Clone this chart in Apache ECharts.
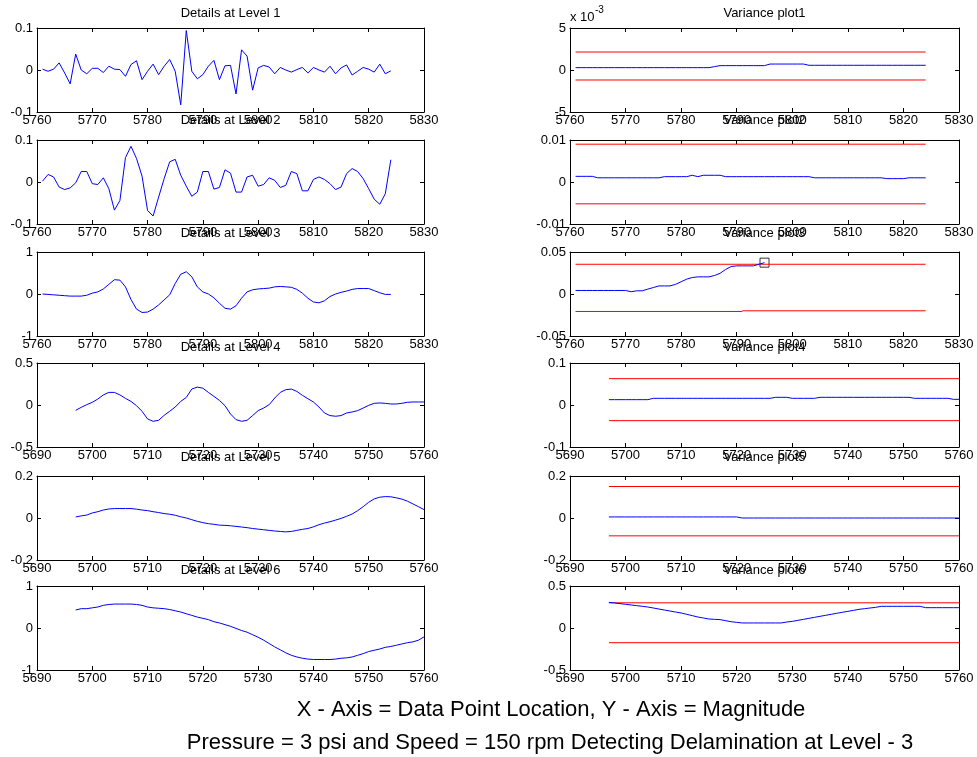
<!DOCTYPE html>
<html>
<head>
<meta charset="utf-8">
<script src="https://cdn.jsdelivr.net/npm/echarts@6/dist/echarts.min.js"></script>
<style>
  html, body { margin: 0; padding: 0; background: #fff; }
  #chart { width: 977px; height: 757px; }
</style>
</head>
<body>
<div id="chart"></div>
<script>
// ---- data ----
const detailTitles = ['Details at Level 1', 'Details at Level 2', 'Details at Level 3',
                      'Details at Level 4', 'Details at Level 5', 'Details at Level 6'];
const varianceTitles = ['Variance plot1', 'Variance plot2', 'Variance plot3',
                        'Variance plot4', 'Variance plot5', 'Variance plot6'];

// first sample location of each row (one sample per integer location)
const rowStart = [5761, 5761, 5761, 5697, 5697, 5697];
const rowXRange = [[5760, 5830], [5760, 5830], [5760, 5830], [5690, 5760], [5690, 5760], [5690, 5760]];
const detailYRange = [[-0.1, 0.1], [-0.1, 0.1], [-1, 1], [-0.5, 0.5], [-0.2, 0.2], [-1, 1]];
const varianceYRange = [[-0.005, 0.005], [-0.01, 0.01], [-0.05, 0.05], [-0.1, 0.1], [-0.2, 0.2], [-0.5, 0.5]];

const detail1 = [0.002,-0.003,0.002,0.017,-0.007,-0.033,0.038,0,-0.009,0.004,
  0.004,-0.006,0.009,0.002,0.001,-0.015,0.013,0.022,-0.023,-0.003,
  0.014,-0.011,0.009,0.025,-0.003,-0.083,0.094,-0.003,-0.021,-0.011,
  0.009,0.023,-0.023,0.01,0.011,-0.057,0.048,0.033,-0.048,0.005,
  0.011,0.007,-0.009,0.006,0,-0.005,0.001,0.006,-0.007,0.006,
  0,-0.005,0.009,-0.009,0.005,0.012,-0.012,-0.003,0.006,0.002,
  -0.005,0.014,-0.009,-0.002];
const detail2 = [0.002,0.018,0.012,-0.012,-0.018,-0.014,-0.002,0.025,0.025,-0.004,
  -0.006,0.01,-0.016,-0.067,-0.044,0.058,0.085,0.056,0.014,-0.068,
  -0.081,-0.036,0.008,0.048,0.054,0.016,-0.01,-0.034,-0.024,0.025,
  0.025,-0.017,-0.013,0.029,0.021,-0.024,-0.024,0.012,0.016,-0.01,
  -0.006,0.01,0.004,-0.013,-0.008,0.025,0.02,-0.021,-0.021,0.006,
  0.012,0.006,-0.004,-0.018,-0.012,0.02,0.032,0.025,0.008,-0.016,
  -0.041,-0.053,-0.028,0.053];
const detail3 = [0,-0.01,-0.02,-0.03,-0.04,-0.05,-0.05,-0.05,-0.03,0.02,
  0.05,0.12,0.23,0.34,0.33,0.17,-0.13,-0.36,-0.44,-0.43,
  -0.36,-0.26,-0.14,-0.02,0.25,0.47,0.53,0.41,0.17,0.05,
  0,-0.09,-0.22,-0.34,-0.36,-0.28,-0.1,0.05,0.1,0.12,
  0.13,0.14,0.17,0.18,0.17,0.16,0.11,0.02,-0.1,-0.19,
  -0.21,-0.16,-0.06,0,0.04,0.07,0.11,0.13,0.13,0.13,
  0.08,0.03,-0.01,-0.01];
const detail4 = [-0.063,-0.028,0.004,0.032,0.071,0.12,0.15,0.15,0.12,0.079,
  0.043,-0.008,-0.075,-0.166,-0.194,-0.182,-0.123,-0.075,-0.024,0.043,
  0.09,0.19,0.213,0.2,0.15,0.103,0.055,-0.008,-0.107,-0.174,
  -0.194,-0.182,-0.126,-0.067,-0.036,0.004,0.083,0.15,0.182,0.19,
  0.162,0.115,0.075,0.036,-0.024,-0.095,-0.126,-0.134,-0.126,-0.095,
  -0.083,-0.067,-0.036,-0.004,0.02,0.024,0.02,0.012,0.012,0.02,
  0.032,0.036,0.036,0.036];
const detail5 = [0.005,0.01,0.014,0.024,0.03,0.038,0.043,0.045,0.045,0.045,
  0.045,0.042,0.038,0.035,0.03,0.026,0.021,0.018,0.013,0.006,
  0,-0.008,-0.016,-0.022,-0.027,-0.03,-0.034,-0.035,-0.037,-0.04,
  -0.043,-0.046,-0.05,-0.053,-0.056,-0.059,-0.062,-0.064,-0.066,-0.064,
  -0.059,-0.054,-0.05,-0.042,-0.032,-0.024,-0.018,-0.01,-0.002,0.008,
  0.019,0.035,0.054,0.075,0.091,0.099,0.102,0.101,0.096,0.09,
  0.08,0.067,0.054,0.04];
const detail6 = [0.43,0.46,0.46,0.48,0.5,0.54,0.56,0.57,0.57,0.57,
  0.57,0.56,0.54,0.5,0.48,0.47,0.46,0.44,0.41,0.38,
  0.34,0.3,0.26,0.23,0.2,0.15,0.12,0.08,0.04,-0.01,
  -0.06,-0.1,-0.16,-0.22,-0.29,-0.37,-0.45,-0.52,-0.59,-0.65,
  -0.69,-0.72,-0.74,-0.75,-0.75,-0.75,-0.75,-0.74,-0.72,-0.71,
  -0.69,-0.65,-0.61,-0.56,-0.53,-0.5,-0.46,-0.44,-0.41,-0.38,
  -0.35,-0.33,-0.29,-0.21];

const variance1 = [0.00028,0.00028,0.00028,0.00028,0.00028,0.00028,0.00028,0.00028,0.00028,0.00028,
  0.00028,0.00028,0.00028,0.00028,0.00028,0.00028,0.00028,0.00028,0.00028,0.00028,
  0.00028,0.00028,0.00028,0.00028,0.00028,0.0004,0.00052,0.00052,0.00052,0.00052,
  0.00052,0.00052,0.00052,0.00052,0.00052,0.00071,0.00071,0.00071,0.00071,0.00071,
  0.00071,0.00071,0.00056,0.00056,0.00056,0.00056,0.00056,0.00056,0.00056,0.00056,
  0.00056,0.00056,0.00056,0.00056,0.00056,0.00056,0.00056,0.00056,0.00056,0.00056,
  0.00056,0.00056,0.00056,0.00056];
const variance2 = [0.00135,0.00135,0.00135,0.00135,0.001,0.001,0.001,0.001,0.001,0.001,
  0.001,0.001,0.001,0.001,0.001,0.001,0.00127,0.00127,0.00127,0.00127,
  0.00127,0.0016,0.00127,0.0016,0.0016,0.0016,0.0016,0.00127,0.00127,0.00127,
  0.00127,0.00127,0.00127,0.00127,0.00127,0.00127,0.00127,0.00127,0.00127,0.00127,
  0.00127,0.00127,0.00127,0.001,0.001,0.001,0.001,0.001,0.001,0.001,
  0.001,0.001,0.001,0.001,0.001,0.001,0.0008,0.0008,0.0008,0.0008,
  0.001,0.001,0.001,0.001];
const variance3 = [0.0042,0.0042,0.0042,0.0042,0.0042,0.0042,0.0042,0.0042,0.0042,0.0042,
  0.0027,0.0038,0.0038,0.0058,0.0077,0.0096,0.0096,0.0096,0.0115,0.0146,
  0.0177,0.0196,0.0204,0.0204,0.0204,0.022,0.0246,0.0292,0.0327,0.0335,
  0.0335,0.0335,0.0335,0.0354,0.0373];
const variance4 = [0.0127,0.0127,0.0127,0.0127,0.0127,0.0127,0.0127,0.0127,0.0159,0.0159,
  0.0159,0.0159,0.0159,0.0159,0.0159,0.0159,0.0159,0.0159,0.0159,0.0159,
  0.0159,0.0159,0.0159,0.0159,0.0159,0.0159,0.0159,0.0159,0.0159,0.0159,
  0.0183,0.0183,0.0183,0.0159,0.0159,0.0159,0.0159,0.0159,0.0183,0.0183,
  0.0183,0.0183,0.0183,0.0183,0.0183,0.0183,0.0183,0.0183,0.0183,0.0183,
  0.0183,0.0183,0.0183,0.0183,0.0183,0.0159,0.0159,0.0159,0.0159,0.0159,
  0.0159,0.0159,0.0135,0.0135];
const variance5 = [0.005,0.005,0.005,0.005,0.005,0.005,0.005,0.005,0.005,0.005,
  0.005,0.005,0.005,0.005,0.005,0.005,0.005,0.005,0.005,0.005,
  0.005,0.005,0.005,0.005,0,0,0,0,0,0,
  0,0,0,0,0,0,0,0,0,0,
  0,0,0,0,0,0,0,0,0,0,
  0,0,0,0,0,0,0,0,0,0,
  0,0,0,0];
const variance6 = [0.305,0.298,0.29,0.282,0.274,0.266,0.258,0.25,0.238,0.226,
  0.214,0.202,0.19,0.179,0.163,0.147,0.131,0.119,0.107,0.103,
  0.1,0.087,0.075,0.067,0.06,0.06,0.06,0.06,0.06,0.06,
  0.06,0.06,0.071,0.079,0.091,0.103,0.115,0.127,0.139,0.151,
  0.163,0.175,0.187,0.198,0.21,0.222,0.23,0.238,0.246,0.258,
  0.258,0.258,0.258,0.258,0.258,0.258,0.258,0.242,0.242,0.242,
  0.242,0.242,0.242,0.242];

// control limits: [xFrom, xTo, value] segments
const upperLimits = [
  [[5761, 5824, 0.00214]],
  [[5761, 5824, 0.009]],
  [[5761, 5824, 0.0354]],
  [[5697, 5760, 0.0627]],
  [[5697, 5760, 0.150]],
  [[5697, 5760, 0.30]]
];
const lowerLimits = [
  [[5761, 5824, -0.00119]],
  [[5761, 5824, -0.0052]],
  [[5761, 5791, -0.0208], [5791, 5824, -0.020]],
  [[5697, 5760, -0.0373]],
  [[5697, 5760, -0.085]],
  [[5697, 5760, -0.175]]
];
// detected point (square marker) on variance plot 3
const alarmPoint = [5795, 0.0373];

const details = [detail1, detail2, detail3, detail4, detail5, detail6];
const variances = [variance1, variance2, variance3, variance4, variance5, variance6];

// ---- layout ----
const rowTop = [28, 140, 252, 363, 476, 586];
const titleY = [13, 120, 233, 347, 457, 570];
const plotH = 84;
const leftX = 37, leftW = 387;
const rightX = 570, rightW = 389;
const FONT = '"Liberation Sans", Arial, Helvetica, sans-serif';

const chart = echarts.init(document.getElementById('chart'));

const grids = [], xAxes = [], yAxes = [], series = [], graphics = [];

function toPairs(vals, start) {
  return vals.map((v, k) => [start + k, v]);
}

function addPanel(idx, left, width, top, xr, yr, labelFmt) {
  grids.push({ left: left, top: top, width: width, height: plotH, show: false });
  const tick = { show: true, inside: true, length: 4, lineStyle: { color: '#000', width: 1 } };
  const line = { show: true, onZero: false, lineStyle: { color: '#000', width: 1 } };
  const lab = { color: '#000', fontSize: 13, fontFamily: FONT };
  const xStep = 10;
  ['bottom', 'top'].forEach(pos => {
    xAxes.push({
      type: 'value', gridIndex: idx, position: pos, min: xr[0], max: xr[1], interval: xStep,
      axisLine: line, axisTick: tick, splitLine: { show: false },
      axisLabel: pos === 'bottom'
        ? Object.assign({ margin: 2, formatter: v => String(v) }, lab)
        : { show: false }
    });
  });
  const yStep = yr[1];
  ['left', 'right'].forEach(pos => {
    yAxes.push({
      type: 'value', gridIndex: idx, position: pos, min: yr[0], max: yr[1], interval: yStep,
      axisLine: line, axisTick: tick, splitLine: { show: false },
      axisLabel: pos === 'left'
        ? Object.assign({ margin: 4, formatter: labelFmt }, lab)
        : { show: false }
    });
  });
  return { xAxisIndex: idx * 2, yAxisIndex: idx * 2 };
}

function fmtPlain(v) {
  return String(parseFloat(v.toFixed(6)));
}

for (let r = 0; r < 6; r++) {
  // left: detail coefficients
  const li = r * 2;
  const la = addPanel(li, leftX, leftW, rowTop[r], rowXRange[r], detailYRange[r], fmtPlain);
  series.push(Object.assign({
    type: 'line', data: toPairs(details[r], rowStart[r]), showSymbol: false,
    lineStyle: { color: '#0000ff', width: 1 }, silent: true, clip: true
  }, la));

  // right: variance with limits
  const ri = r * 2 + 1;
  const fmt = r === 0 ? (v => String(Math.round(v * 1000))) : fmtPlain;
  const ra = addPanel(ri, rightX, rightW, rowTop[r], rowXRange[r], varianceYRange[r], fmt);
  upperLimits[r].concat(lowerLimits[r]).forEach(seg => {
    series.push(Object.assign({
      type: 'line', data: [[seg[0], seg[2]], [seg[1], seg[2]]], showSymbol: false,
      lineStyle: { color: '#ff0000', width: 1 }, silent: true
    }, ra));
  });
  series.push(Object.assign({
    type: 'line', data: toPairs(variances[r], rowStart[r]), showSymbol: false,
    lineStyle: { color: '#0000ff', width: 1 }, silent: true
  }, ra));
  if (r === 2) {
    series.push(Object.assign({
      type: 'scatter', data: [alarmPoint], symbol: 'rect', symbolSize: 9,
      itemStyle: { color: 'rgba(0,0,0,0)', borderColor: '#000', borderWidth: 1 }, silent: true
    }, ra));
  }

  // titles
  graphics.push({
    type: 'text', x: leftX + leftW / 2, y: titleY[r],
    style: { text: detailTitles[r], fill: '#000', font: '13px ' + FONT, textAlign: 'center', textVerticalAlign: 'middle' }
  });
  graphics.push({
    type: 'text', x: rightX + rightW / 2, y: titleY[r],
    style: { text: varianceTitles[r], fill: '#000', font: '13px ' + FONT, textAlign: 'center', textVerticalAlign: 'middle' }
  });
}

// exponent label of variance plot 1
graphics.push({
  type: 'text', x: rightX, y: 17,
  style: { text: 'x 10', fill: '#000', font: '13px ' + FONT, textAlign: 'left', textVerticalAlign: 'middle' }
});
graphics.push({
  type: 'text', x: rightX + 25, y: 10,
  style: { text: '-3', fill: '#000', font: '10px ' + FONT, textAlign: 'left', textVerticalAlign: 'middle' }
});

// footer text
graphics.push({
  type: 'text', x: 551, y: 710,
  style: { text: 'X - Axis = Data Point Location, Y - Axis = Magnitude', fill: '#000', font: '22px ' + FONT, textAlign: 'center', textVerticalAlign: 'middle' }
});
graphics.push({
  type: 'text', x: 550, y: 743,
  style: { text: 'Pressure = 3 psi and Speed = 150 rpm Detecting Delamination at Level - 3', fill: '#000', font: '22px ' + FONT, textAlign: 'center', textVerticalAlign: 'middle' }
});

chart.setOption({
  animation: false,
  backgroundColor: '#fff',
  grid: grids,
  xAxis: xAxes,
  yAxis: yAxes,
  series: series,
  graphic: graphics
});
</script>
</body>
</html>
